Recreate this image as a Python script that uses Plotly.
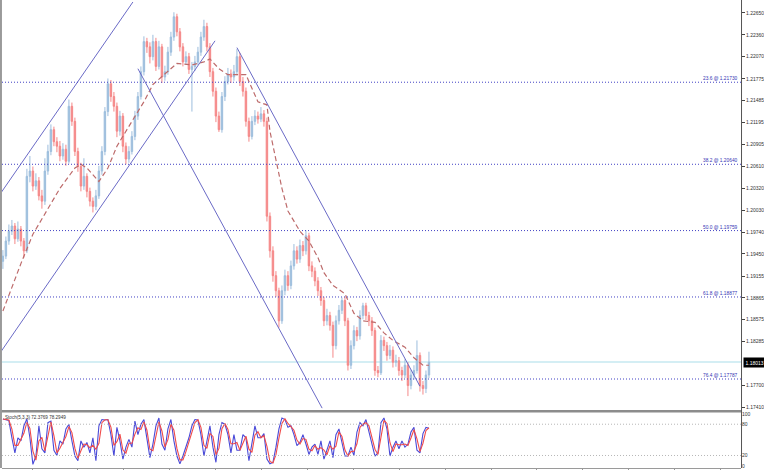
import plotly.graph_objects as go
import pandas as pd

# ---------------- data ----------------
first_open = 1.1935
closes = [
    1.1942, 1.1962, 1.1975, 1.1982, 1.1965, 1.1978, 1.1962, 1.1949, 1.2048, 1.2055,
    1.2035, 1.2042, 1.2022, 1.2015, 1.2055, 1.2081, 1.2110, 1.2094, 1.2088, 1.2075,
    1.2084, 1.2068, 1.2141, 1.2121, 1.2081, 1.2061, 1.2035, 1.2048, 1.2028, 1.2015,
    1.2008, 1.2022, 1.2055, 1.2081, 1.2134, 1.2171, 1.2154, 1.2141, 1.2108, 1.2128,
    1.2088, 1.2071, 1.2081, 1.2101, 1.2128, 1.2154, 1.2187, 1.2227, 1.2220, 1.2207,
    1.2227, 1.2194, 1.2220, 1.2180, 1.2187, 1.2213, 1.2233, 1.2260, 1.2240, 1.2220,
    1.2200, 1.2207, 1.2190, 1.2194, 1.2200, 1.2213, 1.2233, 1.2247, 1.2220, 1.2187,
    1.2161, 1.2128, 1.2110, 1.2154, 1.2174, 1.2184, 1.2180, 1.2187, 1.2207, 1.2174,
    1.2161, 1.2121, 1.2101, 1.2121, 1.2128, 1.2124, 1.2131, 1.2121, 1.1995, 1.1949,
    1.1916, 1.1896, 1.1856, 1.1896, 1.1916, 1.1903, 1.1929, 1.1949, 1.1938, 1.1956,
    1.1949, 1.1969, 1.1929, 1.1922, 1.1909, 1.1896, 1.1883, 1.1856, 1.1863, 1.1850,
    1.1823, 1.1856, 1.1870, 1.1883, 1.1856, 1.1797, 1.1823, 1.1843, 1.1836, 1.1863,
    1.1876, 1.1863, 1.1856, 1.1843, 1.1790, 1.1787, 1.1830, 1.1823, 1.1810, 1.1817,
    1.1801, 1.1803, 1.1790, 1.1784, 1.1797, 1.1770, 1.1784, 1.1790, 1.1810, 1.1770,
    1.1766, 1.1784, 1.1801,
]
highs = [
    1.1950, 1.1968, 1.1984, 1.1990, 1.1986, 1.1988, 1.1982, 1.1966, 1.2058, 1.2075,
    1.2061, 1.2052, 1.2047, 1.2030, 1.2072, 1.2090, 1.2117, 1.2114, 1.2100, 1.2095,
    1.2092, 1.2090, 1.2150, 1.2146, 1.2126, 1.2086, 1.2066, 1.2072, 1.2052, 1.2033,
    1.2020, 1.2030, 1.2062, 1.2088, 1.2140, 1.2178, 1.2176, 1.2160, 1.2146, 1.2135,
    1.2132, 1.2093, 1.2088, 1.2108, 1.2135, 1.2160, 1.2194, 1.2234, 1.2232, 1.2226,
    1.2236, 1.2232, 1.2228, 1.2224, 1.2195, 1.2220, 1.2240, 1.2266, 1.2264, 1.2245,
    1.2225, 1.2214, 1.2212, 1.2200, 1.2208, 1.2220, 1.2240, 1.2256, 1.2252, 1.2225,
    1.2192, 1.2166, 1.2134, 1.2160, 1.2181, 1.2192, 1.2190, 1.2196, 1.2217, 1.2212,
    1.2180, 1.2166, 1.2126, 1.2128, 1.2136, 1.2134, 1.2140, 1.2136, 1.2126, 1.2000,
    1.1955, 1.1922, 1.1900, 1.1903, 1.1924, 1.1922, 1.1936, 1.1958, 1.1955, 1.1964,
    1.1962, 1.1976, 1.1973, 1.1935, 1.1927, 1.1914, 1.1901, 1.1888, 1.1872, 1.1868,
    1.1855, 1.1863, 1.1877, 1.1887, 1.1888, 1.1860, 1.1830, 1.1850, 1.1848, 1.1870,
    1.1880, 1.1880, 1.1868, 1.1861, 1.1847, 1.1796, 1.1837, 1.1835, 1.1828, 1.1824,
    1.1822, 1.1811, 1.1808, 1.1795, 1.1805, 1.1801, 1.1791, 1.1797, 1.1830, 1.1814,
    1.1776, 1.1790, 1.1815,
]
lows = [
    1.1925, 1.1938, 1.1957, 1.1970, 1.1958, 1.1961, 1.1955, 1.1940, 1.1946, 1.2040,
    1.2028, 1.2030, 1.2016, 1.2005, 1.2010, 1.2050, 1.2076, 1.2088, 1.2080, 1.2068,
    1.2070, 1.2062, 1.2065, 1.2115, 1.2075, 1.2054, 1.2028, 1.2030, 1.2020, 1.2008,
    1.2000, 1.2003, 1.2018, 1.2050, 1.2076, 1.2128, 1.2147, 1.2134, 1.2100, 1.2102,
    1.2080, 1.2064, 1.2066, 1.2077, 1.2096, 1.2123, 1.2150, 1.2182, 1.2212, 1.2198,
    1.2202, 1.2188, 1.2190, 1.2172, 1.2175, 1.2183, 1.2208, 1.2228, 1.2234, 1.2214,
    1.2194, 1.2196, 1.2184, 1.2134, 1.2188, 1.2196, 1.2208, 1.2228, 1.2214, 1.2180,
    1.2154, 1.2120, 1.2107, 1.2106, 1.2148, 1.2170, 1.2172, 1.2175, 1.2182, 1.2168,
    1.2154, 1.2114, 1.2094, 1.2097, 1.2116, 1.2118, 1.2120, 1.2114, 1.1988, 1.1940,
    1.1908, 1.1888, 1.1847, 1.1852, 1.1890, 1.1896, 1.1898, 1.1924, 1.1932, 1.1933,
    1.1942, 1.1944, 1.1922, 1.1914, 1.1902, 1.1889, 1.1876, 1.1849, 1.1850, 1.1843,
    1.1807, 1.1818, 1.1851, 1.1865, 1.1849, 1.1790, 1.1792, 1.1818, 1.1829, 1.1831,
    1.1858, 1.1857, 1.1849, 1.1836, 1.1783, 1.1781, 1.1784, 1.1816, 1.1803, 1.1805,
    1.1794, 1.1795, 1.1783, 1.1776, 1.1780, 1.1756, 1.1765, 1.1778, 1.1786, 1.1762,
    1.1758, 1.1760, 1.1780,
]

# moving average (dashed) read at selected bars
ma_idx = [0, 6, 10, 15, 19, 24, 26, 28, 32, 35, 38, 43, 47, 50, 55, 58, 63, 67, 69, 72,
          75, 81, 85, 88, 89, 91, 93, 95, 99, 102, 105, 107, 110, 114, 117, 120, 124, 127,
          130, 134, 137, 140, 142]
ma_val = [1.1869, 1.1932, 1.1971, 1.2006, 1.2032, 1.2059, 1.2064, 1.2059, 1.2041, 1.2059,
          1.2088, 1.2121, 1.2147, 1.2170, 1.2187, 1.2198, 1.2196, 1.2200, 1.2204, 1.2191,
          1.2183, 1.2183, 1.2147, 1.2143, 1.2108, 1.2068, 1.2032, 1.2002, 1.1975, 1.1962,
          1.1940, 1.1920, 1.1903, 1.1892, 1.1866, 1.1856, 1.1854, 1.1840, 1.1830, 1.1821,
          1.1807, 1.1797, 1.1797]

# stochastic main line (%K) read per bar
stoch_k = [
    90, 89, 87, 54, 25, 54, 48, 77, 90, 54,
    3, 19, 77, 33, 25, 83, 86, 30, 20, 48,
    42, 71, 80, 48, 19, 10, 48, 36, 45, 25,
    54, 10, 77, 89, 88, 89, 60, 19, 74, 48,
    13, 36, 51, 36, 86, 60, 80, 89, 48, 16,
    42, 77, 92, 42, 30, 71, 89, 48, 19, 4,
    19, 36, 54, 77, 89, 88, 60, 19, 48, 77,
    36, 7, 60, 83, 80, 60, 25, 60, 30, 30,
    60, 54, 10, 42, 77, 54, 54, 62, 13, 4,
    7, 36, 71, 92, 89, 74, 77, 60, 39, 45,
    60, 42, 22, 36, 42, 22, 48, 13, 30, 48,
    16, 60, 71, 42, 19, 19, 36, 20, 65, 83,
    77, 89, 65, 45, 19, 25, 83, 92, 71, 19,
    36, 48, 33, 48, 36, 42, 65, 74, 30, 25,
    62, 74, 72.3769,
]

# trend / channel lines (bar index, price) end points
trend_idx = [[-1.0, 43.4], [-1.0, 70.7], [45.0, 106.4], [78.0, 139.0]]
trend_price = [[1.2024, 1.2280], [1.1813, 1.2228], [1.2191, 1.1740], [1.2219, 1.1769]]

fib_levels = ["23.6", "38.2", "50.0", "61.8", "76.4"]
fib_prices = [1.21730, 1.20640, 1.19759, 1.18877, 1.17787]
current_price = 1.18013

price_ticks = [1.22650, 1.22360, 1.22070, 1.21775, 1.21485, 1.21195, 1.20905, 1.20610,
               1.20320, 1.20030, 1.19740, 1.19450, 1.19155, 1.18865, 1.18575, 1.18285,
               1.17700, 1.17410]
stoch_ticks = [0, 20, 80, 100]
stoch_label = "Stoch(5,3,3) 72.3769 78.2949"

# ---------------- derived ----------------
n = len(closes)
idx = list(range(n))
opens = [first_open] + closes[:-1]
stoch_d = pd.Series(stoch_k).rolling(2, min_periods=1).mean().tolist()

FONT = "Liberation Sans, Arial, sans-serif"
H_PLOT = 468.0
main_bottom = 1 - 410 / H_PLOT
stoch_top = 1 - 412 / H_PLOT

fig = go.Figure()

fig.add_trace(go.Candlestick(
    x=idx, open=opens, high=highs, low=lows, close=closes,
    increasing=dict(line=dict(color="#9dbedd", width=1), fillcolor="#9dbedd"),
    decreasing=dict(line=dict(color="#f58888", width=1), fillcolor="#f58888"),
    whiskerwidth=0, showlegend=False, hoverinfo="skip", xaxis="x", yaxis="y"))

fig.add_trace(go.Scatter(x=ma_idx, y=ma_val, mode="lines", showlegend=False,
                         line=dict(color="#bd6b6b", width=1.2, dash="5px,3px"),
                         xaxis="x", yaxis="y", hoverinfo="skip"))

for tx, ty in zip(trend_idx, trend_price):
    fig.add_trace(go.Scatter(x=tx, y=ty, mode="lines", showlegend=False,
                             line=dict(color="#6a6ac6", width=1),
                             xaxis="x", yaxis="y", hoverinfo="skip"))

fig.add_trace(go.Scatter(x=idx, y=stoch_k, mode="lines", showlegend=False,
                         line=dict(color="#4a4ad8", width=1.1),
                         xaxis="x2", yaxis="y2", hoverinfo="skip"))
fig.add_trace(go.Scatter(x=idx, y=stoch_d, mode="lines", showlegend=False,
                         line=dict(color="#f04a4a", width=1.1),
                         xaxis="x2", yaxis="y2", hoverinfo="skip"))

shapes = []
shapes.append(dict(type="line", xref="paper", yref="y", x0=0, x1=1,
                   y0=current_price, y1=current_price, layer="below",
                   line=dict(color="#a9dde9", width=1)))
for p in fib_prices:
    shapes.append(dict(type="line", xref="paper", yref="y", x0=0, x1=1, y0=p, y1=p,
                       line=dict(color="#4040c4", width=1, dash="1px,2px")))
for v in (80, 20):
    shapes.append(dict(type="line", xref="paper", yref="y2", x0=0, x1=1, y0=v, y1=v,
                       line=dict(color="#b8b8b8", width=1, dash="1px,2px")))
sep_y = 1 - 411 / H_PLOT
shapes.append(dict(type="line", xref="paper", yref="paper", x0=-0.01, x1=1.0,
                   y0=sep_y, y1=sep_y, line=dict(color="#8c8c8c", width=2.5)))
shapes.append(dict(type="line", xref="paper", yref="paper", x0=-0.0014, x1=-0.0014,
                   y0=0, y1=1.01, line=dict(color="#9a9a9a", width=2)))
shapes.append(dict(type="line", xref="paper", yref="paper", x0=1.0007, x1=1.0007,
                   y0=0, y1=1.01, line=dict(color="#555555", width=1)))

annotations = []
for lvl, p in zip(fib_levels, fib_prices):
    annotations.append(dict(xref="paper", yref="y", x=1, y=p, xanchor="right",
                            yanchor="bottom", showarrow=False, xshift=-1, yshift=-1,
                            text=f"{lvl} @ {p:.5f}",
                            font=dict(family=FONT, size=4.8, color="#3434b4")))
annotations.append(dict(xref="paper", yref="y", x=1, y=current_price, xanchor="left",
                        yanchor="middle", showarrow=False, xshift=2,
                        text=f"{current_price:.5f}", bgcolor="#000000", borderpad=1.5,
                        font=dict(family=FONT, size=5, color="#ffffff")))
annotations.append(dict(xref="paper", yref="paper", x=0.002, y=stoch_top, xanchor="left",
                        yanchor="top", showarrow=False, yshift=-1,
                        text=stoch_label,
                        font=dict(family=FONT, size=4.6, color="#333333")))

fig.update_layout(
    width=764, height=470,
    margin=dict(l=2, r=23, t=0, b=2),
    paper_bgcolor="white", plot_bgcolor="white",
    showlegend=False,
    xaxis=dict(domain=[0, 1], range=[-0.3, 246.0], anchor="y",
               showticklabels=False, showgrid=False, zeroline=False,
               rangeslider=dict(visible=False), ticks=""),
    yaxis=dict(domain=[main_bottom, 1], range=[1.17372, 1.22796], anchor="x",
               side="right", tickvals=price_ticks,
               ticktext=[f"{t:.5f}" for t in price_ticks],
               ticks="outside", ticklen=3, tickcolor="#444444",
               tickfont=dict(family=FONT, size=5, color="#333333"),
               showgrid=False, zeroline=False, showline=False),
    xaxis2=dict(domain=[0, 1], range=[-0.3, 246.0], anchor="y2",
                showticklabels=False, showgrid=False, zeroline=False,
                ticks="outside", ticklen=2, tickcolor="#999999",
                tick0=9.7, dtick=15.3, showline=True, linecolor="#9a9a9a", linewidth=1),
    yaxis2=dict(domain=[0, stoch_top], range=[-4, 103], anchor="x2",
                side="right", tickvals=stoch_ticks,
                ticktext=[str(t) for t in stoch_ticks],
                ticks="", tickfont=dict(family=FONT, size=5, color="#333333"),
                showgrid=False, zeroline=False, showline=False),
    shapes=shapes,
    annotations=annotations,
)

fig.write_html("out.html", config={"displayModeBar": False},
               post_script="document.body.style.margin='0';")
